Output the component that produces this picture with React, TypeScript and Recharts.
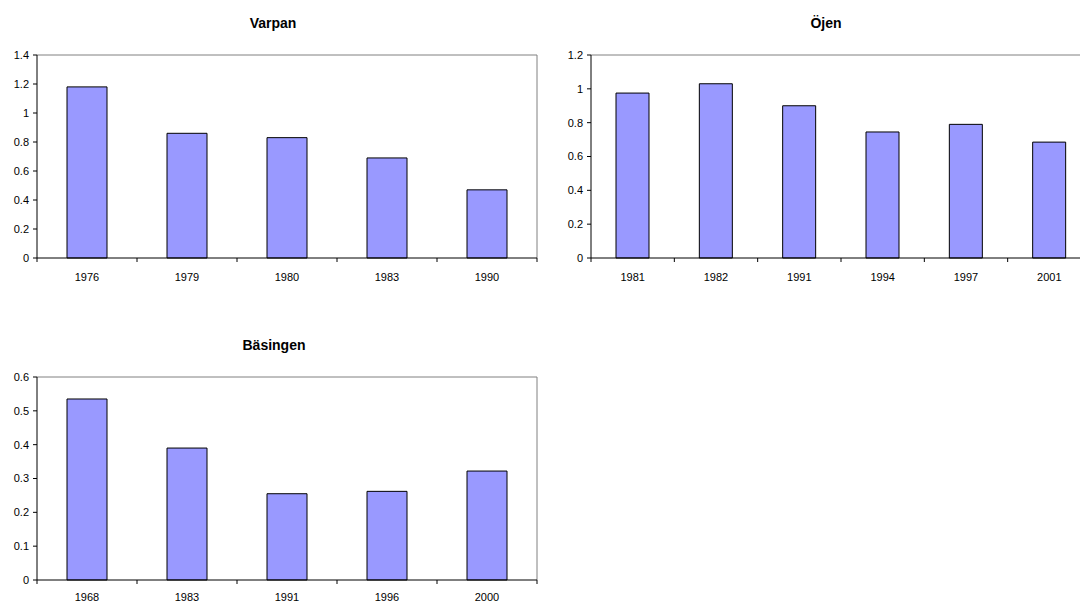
import React from "react";
import {
  Bar,
  BarChart,
  CartesianGrid,
  XAxis,
  YAxis,
} from "recharts";

const VARPAN_YEARS = ["1976", "1979", "1980", "1983", "1990"];
const VARPAN_VALUES = [1.18, 0.86, 0.83, 0.69, 0.47];
const VARPAN_TICKS = [0, 0.2, 0.4, 0.6, 0.8, 1, 1.2, 1.4];

const OJEN_YEARS = ["1981", "1982", "1991", "1994", "1997", "2001"];
const OJEN_VALUES = [0.975, 1.03, 0.9, 0.745, 0.79, 0.685];
const OJEN_TICKS = [0, 0.2, 0.4, 0.6, 0.8, 1, 1.2];

const BASINGEN_YEARS = ["1968", "1983", "1991", "1996", "2000"];
const BASINGEN_VALUES = [0.535, 0.39, 0.255, 0.262, 0.322];
const BASINGEN_TICKS = [0, 0.1, 0.2, 0.3, 0.4, 0.5, 0.6];

const FONT = '"Liberation Sans", Arial, sans-serif';
const PLOT_W = 500;
const PLOT_H = 203;
const TOP_M = 55;

const fmt = (v: number) => String(Number(v.toFixed(1)));

// label at band centre, tick marks on the band edges (Excel style)
const CategoryTick = (props: any) => {
  const { x, y, payload, index, visibleTicksCount, margin } = props;
  const half = payload && payload.offset ? payload.offset : 0;
  const axisY = y - 4 - margin;
  return (
    <g>
      <line x1={x - half} x2={x - half} y1={axisY} y2={axisY + 4} stroke="#000" />
      {index === visibleTicksCount - 1 && (
        <line x1={x + half} x2={x + half} y1={axisY} y2={axisY + 4} stroke="#000" />
      )}
      <text
        x={x}
        y={y}
        dy="0.71em"
        textAnchor="middle"
        fontSize={11}
        fontFamily={FONT}
        fill="#000"
      >
        {payload.value}
      </text>
    </g>
  );
};

interface PanelProps {
  title: string;
  years: string[];
  values: number[];
  ticks: number[];
  left: number;
  top: number;
  titleX: number;
  labelMargin?: number;
}

const Panel: React.FC<PanelProps> = ({
  title,
  years,
  values,
  ticks,
  left,
  top,
  titleX,
  labelMargin = 11,
}) => {
  const data = years.map((year, i) => ({ year, value: values[i] }));
  const max = ticks[ticks.length - 1];
  return (
    <>
      <div
        style={{
          position: "absolute",
          left: titleX - 100,
          top: top + 15,
          width: 200,
          textAlign: "center",
          fontFamily: FONT,
          fontWeight: "bold",
          fontSize: 14,
          lineHeight: "16px",
          color: "#000",
        }}
      >
        {title}
      </div>
      <div style={{ position: "absolute", left, top }}>
        <BarChart
          width={37 + PLOT_W + 3}
          height={TOP_M + PLOT_H + 42}
          data={data}
          margin={{ top: TOP_M, right: 3, left: 0, bottom: 12 }}
          barCategoryGap="30%"
        >
          {/* grey plot-area border on top and right */}
          <CartesianGrid
            stroke="#808080"
            horizontalCoordinatesGenerator={({ offset }: any) => [offset.top]}
            verticalCoordinatesGenerator={({ offset }: any) => [offset.left + offset.width]}
          />
          <XAxis
            dataKey="year"
            height={30}
            stroke="#000"
            tickLine={false}
            tickSize={4}
            tickMargin={labelMargin}
            tick={<CategoryTick margin={labelMargin} />}
            interval={0}
          />
          <YAxis
            width={37}
            domain={[0, max]}
            ticks={ticks}
            interval={0}
            stroke="#000"
            tickSize={4}
            tickMargin={4}
            tickFormatter={fmt}
            tick={{ fontSize: 11, fontFamily: FONT, fill: "#000" }}
          />
          <Bar
            dataKey="value"
            fill="#9999FF"
            stroke="#000"
            strokeWidth={1}
            isAnimationActive={false}
          />
        </BarChart>
      </div>
    </>
  );
};

export default function App() {
  return (
    <div
      style={{
        position: "absolute",
        left: 0,
        top: 0,
        width: 1080,
        height: 603,
        overflow: "hidden",
        background: "#fff",
      }}
    >
      <Panel
        title="Varpan"
        years={VARPAN_YEARS}
        values={VARPAN_VALUES}
        ticks={VARPAN_TICKS}
        left={0}
        top={0}
        titleX={273}
      />
      <Panel
        title="Öjen"
        years={OJEN_YEARS}
        values={OJEN_VALUES}
        ticks={OJEN_TICKS}
        left={554}
        top={0}
        titleX={826}
      />
      <Panel
        title="Bäsingen"
        years={BASINGEN_YEARS}
        values={BASINGEN_VALUES}
        ticks={BASINGEN_TICKS}
        left={0}
        top={322}
        titleX={274}
        labelMargin={9}
      />
    </div>
  );
}
